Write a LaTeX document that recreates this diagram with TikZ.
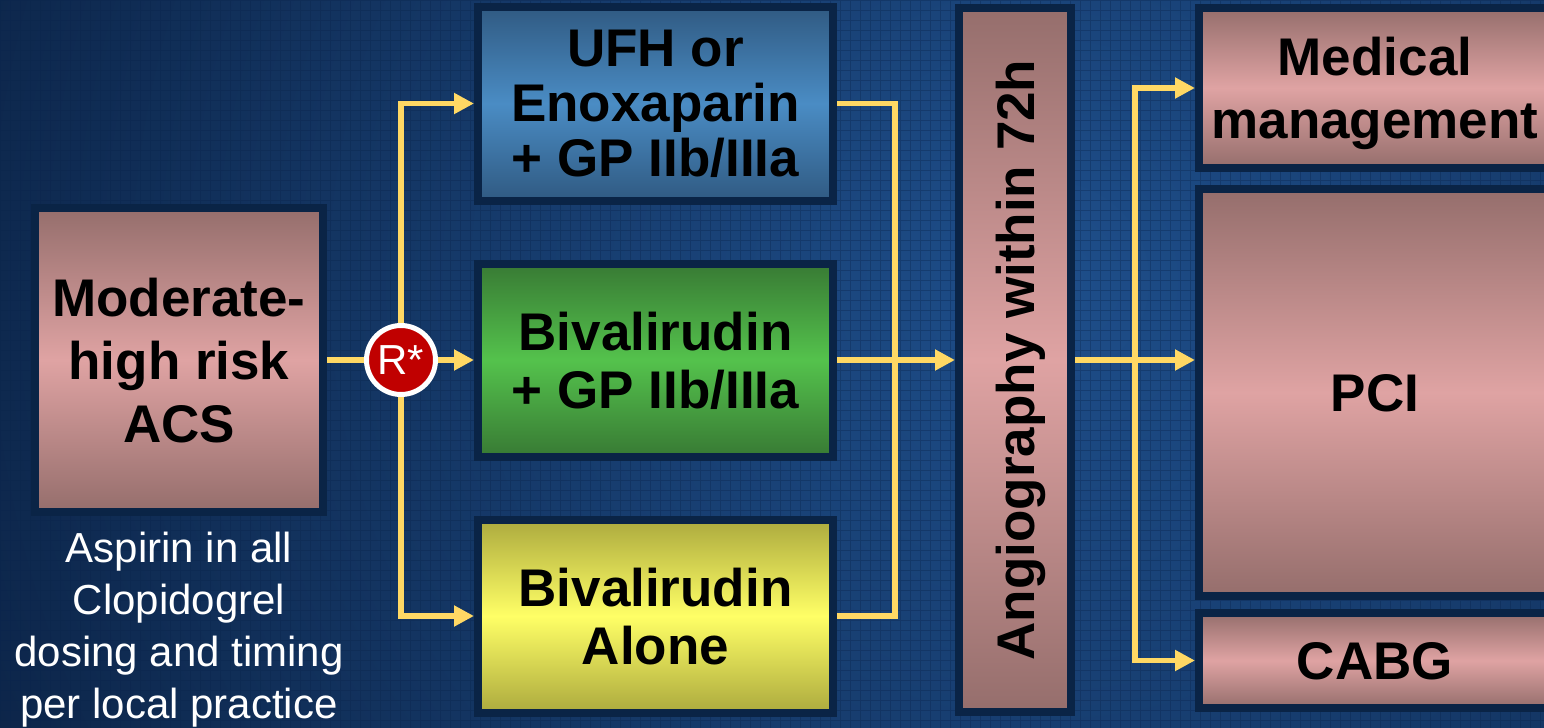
\documentclass[tikz,border=0pt]{standalone}
\usepackage{fontspec}
\setmainfont{Liberation Sans}
\usetikzlibrary{positioning}
\usetikzlibrary{shapes}
\usetikzlibrary{arrows.meta}
\definecolor{bgdark}{RGB}{5,20,46}
\definecolor{bglight}{RGB}{30,78,138}
\definecolor{gridc}{RGB}{10,36,76}
\definecolor{rim}{RGB}{10,36,70}
\definecolor{pinkd}{RGB}{149,110,108}
\definecolor{pinkl}{RGB}{223,163,163}
\definecolor{blued}{RGB}{48,90,130}
\definecolor{bluel}{RGB}{74,140,196}
\definecolor{greend}{RGB}{56,122,52}
\definecolor{greenl}{RGB}{84,194,76}
\definecolor{yellowd}{RGB}{172,170,62}
\definecolor{yellowl}{RGB}{255,255,102}
\definecolor{flow}{RGB}{255,216,100}
\definecolor{rred}{RGB}{192,0,0}
\tikzstyle{B} = [rectangle,draw=rim,line width=4pt,outer sep=2pt,inner sep=0pt,align=center,text=black,text depth=0pt,font=\fontsize{26.5}{29}\selectfont\bfseries]
\tikzstyle{pinkbox} = [B,top color=pinkd,bottom color=pinkd,middle color=pinkl]
\tikzstyle{bluebox} = [B,top color=blued,bottom color=blued,middle color=bluel]
\tikzstyle{greenbox} = [B,top color=greend,bottom color=greend,middle color=greenl]
\tikzstyle{yellowbox} = [B,top color=yellowd,bottom color=yellowd,middle color=yellowl]
\tikzstyle{flowline} = [draw=flow,line width=2.6pt]
\tikzset{>={Triangle[length=10pt,width=10pt]}}

\begin{document}
\begin{tikzpicture}[x=0.5pt,y=-0.5pt]
  \useasboundingbox (0,0) rectangle (1544,728);
  \clip (0,0) rectangle (1544,728);
  % backdrop
  \fill [bgdark] (0,0) rectangle (1544,728);
  \shade [inner color=bglight,outer color=bgdark] (1050,280) circle [radius=820pt];
  \draw [gridc,line width=0.5pt,opacity=0.35,step=5pt] (0pt,0pt) grid (772pt,-364pt);

  \node [pinkbox,minimum width=144pt,minimum height=152pt,font=\fontsize{26.5}{31.5}\selectfont\bfseries] (acs) at (179,360) {Moderate-\\high risk\\ACS};
  \node [below=8pt of acs,text=white,align=center,inner sep=0pt,font=\fontsize{21}{26}\selectfont] (note) {Aspirin in all\\Clopidogrel\\dosing and timing\\per local practice};
  \node [circle,fill=rred,draw=white,line width=2.5pt,minimum size=34.5pt,inner sep=0pt,text=white,font=\fontsize{21}{21}\selectfont] (r) at (401,360) {R*};

  \node [bluebox,minimum width=177.5pt,minimum height=97pt,font=\fontsize{26.5}{27.5}\selectfont\bfseries] (ufh) at (655.5,103.5) {UFH or\\Enoxaparin\\+ GP IIb/IIIa};
  \node [greenbox,below=27.5pt of ufh,minimum width=177.5pt,minimum height=96.5pt] (biv) {Bivalirudin\\+ GP IIb/IIIa};
  \node [yellowbox,below=27.5pt of biv,minimum width=177.5pt,minimum height=96.5pt] (alone) {Bivalirudin\\Alone};

  \node [pinkbox,rotate=90,minimum width=352pt,minimum height=56pt] (angio) at (1015,360) {Angiography within 72h};

  \node [pinkbox,minimum width=176pt,minimum height=80pt,font=\fontsize{26.5}{31.5}\selectfont\bfseries] (med) at (1375,88) {Medical\\management};
  \node [pinkbox,below=6.5pt of med,minimum width=176pt,minimum height=203.5pt] (pci) {PCI};
  \node [pinkbox,below=4.5pt of pci,minimum width=176pt,minimum height=47.5pt] (cabg) {CABG};

  \coordinate (j1) at (895,360);
  \coordinate (j2) at (1135,360);

  \draw [flowline] (acs) -- (r);
  \draw [flowline,->] (r) |- (ufh);
  \draw [flowline,->] (r) -- (biv);
  \draw [flowline,->] (r) |- (alone);
  \draw [flowline] (ufh) -| (j1);
  \draw [flowline] (alone) -| (j1);
  \draw [flowline,->] (biv) -- (angio);
  \draw [flowline,->] (angio) -- (angio -| pci.west);
  \draw [flowline,->] (j2) |- (med);
  \draw [flowline,->] (j2) |- (cabg);
\end{tikzpicture}
\end{document}
